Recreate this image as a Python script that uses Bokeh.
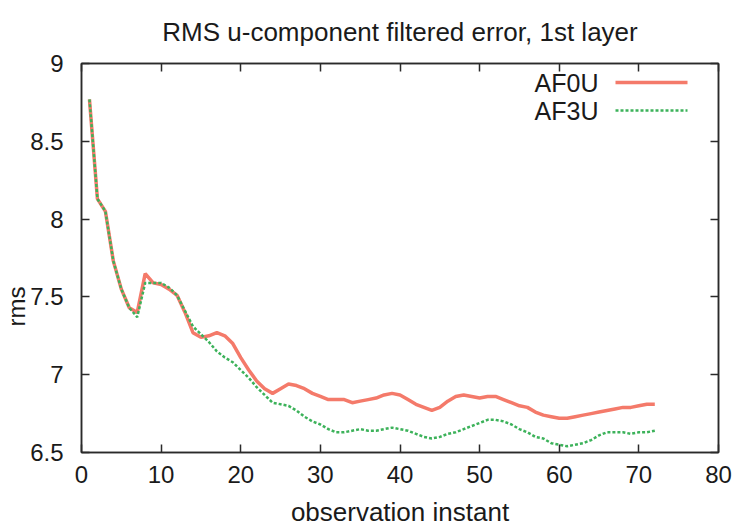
from bokeh.plotting import figure
from bokeh.models import (Range1d, FixedTicker, LinearAxis, Label, Arrow, Title,
                          CustomLabelingPolicy)
from bokeh.embed import file_html
from bokeh.resources import INLINE

# ---- data ----
instants = list(range(1, 73))
af0u = [8.77, 8.13, 8.05, 7.73, 7.55, 7.43, 7.40, 7.65, 7.59, 7.58,
        7.55, 7.51, 7.40, 7.27, 7.24, 7.25, 7.27, 7.25, 7.20, 7.11,
        7.03, 6.96, 6.91, 6.88, 6.91, 6.94, 6.93, 6.91, 6.88, 6.86,
        6.84, 6.84, 6.84, 6.82, 6.83, 6.84, 6.85, 6.87, 6.88, 6.87,
        6.84, 6.81, 6.79, 6.77, 6.79, 6.83, 6.86, 6.87, 6.86, 6.85,
        6.86, 6.86, 6.84, 6.82, 6.80, 6.79, 6.76, 6.74, 6.73, 6.72,
        6.72, 6.73, 6.74, 6.75, 6.76, 6.77, 6.78, 6.79, 6.79, 6.80,
        6.81, 6.81]
af3u = [8.77, 8.13, 8.05, 7.73, 7.55, 7.43, 7.37, 7.59, 7.59, 7.59,
        7.56, 7.51, 7.41, 7.31, 7.26, 7.21, 7.15, 7.11, 7.08, 7.03,
        6.98, 6.92, 6.87, 6.82, 6.81, 6.80, 6.77, 6.73, 6.70, 6.68,
        6.65, 6.63, 6.63, 6.64, 6.65, 6.64, 6.64, 6.65, 6.66, 6.65,
        6.64, 6.62, 6.60, 6.59, 6.60, 6.62, 6.63, 6.65, 6.67, 6.69,
        6.71, 6.71, 6.70, 6.68, 6.65, 6.63, 6.60, 6.59, 6.56, 6.55,
        6.54, 6.55, 6.56, 6.58, 6.61, 6.63, 6.63, 6.63, 6.62, 6.63,
        6.63, 6.64]
x_ticks = [0, 10, 20, 30, 40, 50, 60, 70, 80]
y_ticks = [6.5, 7.0, 7.5, 8.0, 8.5, 9.0]
y_tick_labels = ["6.5", "7", "7.5", "8", "8.5", "9"]
series_names = ["AF0U", "AF3U"]
title_text = "RMS u-component filtered error, 1st layer"
x_label = "observation instant"
y_label = "rms"

FONT = "Liberation Sans"
RED = "#f47a6a"
GREEN = "#3cb25a"
AX = "#2a2a2a"
TXT = "#1a1a1a"

p = figure(width=735, height=529, output_backend="svg", toolbar_location=None,
           x_range=Range1d(0, 80), y_range=Range1d(6.5, 9),
           min_border_left=81, min_border_right=17, min_border_top=63,
           min_border_bottom=77, x_axis_location=None, y_axis_location=None)
p.background_fill_color = "white"
p.border_fill_color = "white"
p.outline_line_color = AX
p.outline_line_width = 1.5
p.xgrid.visible = False
p.ygrid.visible = False

p.title.text = title_text
p.title.align = "center"
p.title.text_font = FONT
p.title.text_font_size = "26px"
p.title.text_font_style = "normal"
p.title.text_color = TXT
p.title.standoff = 25

def make_axis(ticks, show_labels, overrides=None):
    ax = LinearAxis(ticker=FixedTicker(ticks=ticks))
    ax.major_tick_in = 8
    ax.major_tick_out = 0
    ax.minor_tick_in = 0
    ax.minor_tick_out = 0
    ax.major_tick_line_color = AX
    ax.major_tick_line_width = 1.5
    ax.axis_line_color = AX
    ax.axis_line_width = 1.5
    ax.major_label_text_font = FONT
    ax.major_label_text_color = TXT
    if show_labels:
        ax.major_label_text_font_size = "24px"
    else:
        # mirror axis: ticks only, no labels drawn
        ax.major_label_text_font_size = "1px"
        ax.major_label_standoff = 0
        ax.major_label_policy = CustomLabelingPolicy(
            code="for (const i of indices) { indices.unset(i) }\nreturn indices")
    if overrides:
        ax.major_label_overrides = overrides
    return ax

bottom = make_axis(x_ticks, True)
bottom.major_label_standoff = 13
bottom.axis_label = x_label
bottom.axis_label_text_font = FONT
bottom.axis_label_text_font_size = "26px"
bottom.axis_label_text_font_style = "normal"
bottom.axis_label_text_color = TXT
bottom.axis_label_standoff = 11
left = make_axis(y_ticks, True, {t: s for t, s in zip(y_ticks, y_tick_labels)})
left.major_label_standoff = 18
top = make_axis(x_ticks, False)
right = make_axis(y_ticks, False)
p.add_layout(bottom, "below")
p.add_layout(left, "left")
p.add_layout(top, "above")
p.add_layout(right, "right")

# y-axis label placed like gnuplot (beside the tick labels, lower than centre)
p.add_layout(Title(text=y_label, align="left", offset=126, standoff=-4,
                   text_font=FONT, text_font_size="24px", text_font_style="normal",
                   text_color=TXT), "left")

p.line(instants, af0u, line_color=RED, line_width=3.5)
p.line(instants, af3u, line_color=GREEN, line_width=2.5, line_dash="3 2")

# legend (gnuplot style: text then sample)
for name, col, lw, dash, sy in [(series_names[0], RED, 3.5, "solid", 370),
                                (series_names[1], GREEN, 2.5, "3 2", 342)]:
    p.add_layout(Label(x=517, y=sy, x_units="screen", y_units="screen", text=name,
                       text_font=FONT, text_font_size="25px", text_color=TXT,
                       text_align="right", text_baseline="middle"))
    p.add_layout(Arrow(end=None, x_start=534, y_start=sy, x_end=606, y_end=sy,
                       start_units="screen", end_units="screen",
                       line_color=col, line_width=lw, line_dash=dash))

open("out.html", "w").write(file_html(p, INLINE))
